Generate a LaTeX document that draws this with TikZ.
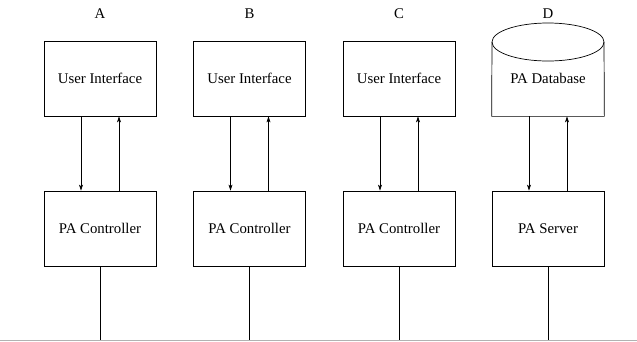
\documentclass[tikz,border=0pt]{standalone}
\usepackage{fontspec}
\setmainfont{Liberation Serif}
\usepackage{tikz}
\usetikzlibrary{arrows.meta}

\tikzset{
  blk/.style={draw,rectangle,minimum width=112pt,minimum height=75pt,inner sep=0pt,font=\fontsize{14.8}{18}\selectfont},
  dbk/.style={rectangle,minimum width=112pt,minimum height=75pt,inner sep=0pt,font=\fontsize{14.8}{18}\selectfont},
  lbl/.style={font=\fontsize{14.8}{18}\selectfont},
  flow/.style={-{Stealth[length=6pt,width=4pt,inset=1.5pt]}},
}

\begin{document}
\begin{tikzpicture}[x=1pt,y=-1pt,line width=0.7pt]
\useasboundingbox (0,0) rectangle (637,341);

\node[lbl](la) at (100,14) {A};
\node[lbl](lb) at (249.5,14) {B};
\node[lbl](lc) at (399,14) {C};
\node[lbl](ld) at (548,14) {D};

\node[blk](uiA) at (100,78.5) {User Interface};
\node[blk](uiB) at (249.5,78.5) {User Interface};
\node[blk](uiC) at (399,78.5) {User Interface};
\node[dbk](dbD) at (548,78.5) {PA Database};

\node[blk](ctlA) at (100,228.5) {PA Controller};
\node[blk](ctlB) at (249.5,228.5) {PA Controller};
\node[blk](ctlC) at (399,228.5) {PA Controller};
\node[blk](srvD) at (548,228.5) {PA Server};

% database drum
\draw (548,42) ellipse [x radius=56, y radius=19];
\draw (492,42) -- (dbD.south west) -- (dbD.south east) -- (604,42);

\draw[flow] ([xshift=-19pt]uiA.south) -- ([xshift=-19pt]ctlA.north);
\draw[flow] ([xshift=19pt]ctlA.north) -- ([xshift=19pt]uiA.south);
\draw[flow] ([xshift=-19pt]uiB.south) -- ([xshift=-19pt]ctlB.north);
\draw[flow] ([xshift=19pt]ctlB.north) -- ([xshift=19pt]uiB.south);
\draw[flow] ([xshift=-19pt]uiC.south) -- ([xshift=-19pt]ctlC.north);
\draw[flow] ([xshift=19pt]ctlC.north) -- ([xshift=19pt]uiC.south);
\draw[flow] ([xshift=-19pt]dbD.south) -- ([xshift=-19pt]srvD.north);
\draw[flow] ([xshift=19pt]srvD.north) -- ([xshift=19pt]dbD.south);

% network
\coordinate (busL) at (0,340);
\coordinate (busR) at (637,340);
\draw[gray!60,line width=1pt] (busL) -- (busR);
\draw (ctlA.south) -- (ctlA.south |- busL);
\draw (ctlB.south) -- (ctlB.south |- busL);
\draw (ctlC.south) -- (ctlC.south |- busL);
\draw (srvD.south) -- (srvD.south |- busL);
\end{tikzpicture}
\end{document}
